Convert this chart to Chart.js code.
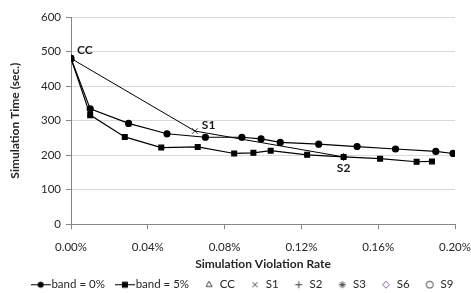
<!DOCTYPE html>
<html>
<head>
<meta charset="utf-8">
<script src="https://cdn.jsdelivr.net/npm/chart.js@4"></script>
<style>
  html, body { margin: 0; padding: 0; background: #fff; }
  #wrap { width: 471px; height: 293px; }
</style>
</head>
<body>
<div id="wrap"><canvas id="chart" width="471" height="293"></canvas></div>
<script>
// violation rate in percent, simulation time in seconds
const band0Rate = [0, 0.010, 0.030, 0.050, 0.070, 0.089, 0.099, 0.109, 0.129, 0.149, 0.169, 0.190, 0.199];
const band0Time = [480, 334, 292, 262, 252, 252, 247, 237, 232, 225, 218, 211, 205];
const band5Rate = [0, 0.010, 0.028, 0.047, 0.066, 0.085, 0.095, 0.104, 0.123, 0.142, 0.161, 0.180, 0.188];
const band5Time = [480, 316, 253, 222, 224, 205, 207, 213, 201, 195, 190, 181, 182];

const ccPoint = { x: 0, y: 480 };
const s1Point = { x: 0.0645, y: 270 };
const s2Point = { x: 0.142, y: 195 };

const xTicks = [0, 0.04, 0.08, 0.12, 0.16, 0.20];
const yTicks = [0, 100, 200, 300, 400, 500, 600];

const FONT = 'Lato';
const toPoints = (xs, ys) => xs.map((x, i) => ({ x, y: ys[i] }));

// little legend glyphs (line + marker, or marker only)
function glyph(w, draw) {
  const c = document.createElement('canvas');
  c.width = w;
  c.height = 10;
  const g = c.getContext('2d');
  draw(g);
  return c;
}
const lineCircle = glyph(20, (g) => {
  g.strokeStyle = '#000'; g.lineWidth = 1;
  g.beginPath(); g.moveTo(0, 5.5); g.lineTo(20, 5.5); g.stroke();
  g.fillStyle = '#000'; g.beginPath(); g.arc(10, 5.5, 3, 0, Math.PI * 2); g.fill();
});
const lineSquare = glyph(20, (g) => {
  g.strokeStyle = '#000'; g.lineWidth = 1;
  g.beginPath(); g.moveTo(0, 5.5); g.lineTo(20, 5.5); g.stroke();
  g.fillStyle = '#000'; g.fillRect(7, 2.5, 6, 6);
});
function marker(style, color, rot) {
  return glyph(10, (g) => {
    g.fillStyle = 'rgba(0,0,0,0)';
    g.strokeStyle = color;
    g.lineWidth = 1;
    Chart.helpers.drawPoint(g, { pointStyle: style, radius: 3.5, rotation: rot || 0, borderWidth: 1 }, 5, 5.5);
  });
}

const pointLabels = {
  id: 'pointLabels',
  afterDatasetsDraw(chart) {
    const { ctx, scales: { x, y } } = chart;
    ctx.save();
    ctx.font = `bold 12px ${FONT}`;
    ctx.fillStyle = '#1a1a1a';
    ctx.textBaseline = 'middle';
    ctx.textAlign = 'left';
    ctx.fillText('CC', x.getPixelForValue(ccPoint.x) + 6, y.getPixelForValue(ccPoint.y) - 8);
    ctx.fillText('S1', x.getPixelForValue(s1Point.x) + 7, y.getPixelForValue(s1Point.y) - 6);
    ctx.textAlign = 'center';
    ctx.fillText('S2', x.getPixelForValue(s2Point.x), y.getPixelForValue(s2Point.y) + 11);
    ctx.restore();
  },
};

const markerDs = (label, pts, style, color, rot) => ({
  label, data: pts, showLine: false, pointStyle: style, pointRotation: rot || 0,
  pointRadius: 4, pointBorderColor: color, pointBackgroundColor: 'rgba(0,0,0,0)',
  pointBorderWidth: 1, borderColor: color, legendGlyph: marker(style, color, rot),
});

const datasets = [
  {
    label: 'band = 0%', data: toPoints(band0Rate, band0Time),
    borderColor: '#000', borderWidth: 1.2, pointStyle: 'circle', pointRadius: 3,
    pointBackgroundColor: '#000', pointBorderColor: '#000', legendGlyph: lineCircle,
  },
  {
    label: 'band = 5%', data: toPoints(band5Rate, band5Time),
    borderColor: '#000', borderWidth: 1.2, pointStyle: 'rect', pointRadius: 3.4,
    pointBackgroundColor: '#000', pointBorderColor: '#000', legendGlyph: lineSquare,
  },
  {
    label: 'path', data: [ccPoint, s1Point, s2Point], borderColor: '#000',
    borderWidth: 1, pointRadius: 0, noLegend: true,
  },
  markerDs('CC', [ccPoint], 'triangle', '#404040'),
  markerDs('S1', [s1Point], 'crossRot', '#404040'),
  markerDs('S2', [s2Point], 'cross', '#404040'),
  markerDs('S3', [], 'star', '#404040'),
  markerDs('S6', [], 'rectRot', '#8064a2'),
  markerDs('S9', [], 'circle', '#404040'),
];

new Chart(document.getElementById('chart'), {
  type: 'line',
  data: { datasets },
  options: {
    responsive: false,
    animation: false,
    layout: { padding: { left: 18, right: 0, top: 17, bottom: -7 } },
    plugins: {
      tooltip: { enabled: false },
      legend: {
        position: 'bottom',
        labels: {
          usePointStyle: true,
          pointStyleWidth: 10,
          padding: 15,
          color: '#262626',
          font: { family: FONT, size: 11.5 },
          generateLabels(chart) {
            return chart.data.datasets
              .map((ds, i) => ({ ds, i }))
              .filter(({ ds }) => !ds.noLegend)
              .map(({ ds, i }) => ({
                text: ds.label, datasetIndex: i, pointStyle: ds.legendGlyph,
                fillStyle: 'transparent', strokeStyle: 'transparent', lineWidth: 0,
                fontColor: '#262626', hidden: false,
              }));
          },
        },
      },
    },
    scales: {
      x: {
        type: 'linear', min: 0, max: 0.2,
        afterBuildTicks: (s) => { s.ticks = xTicks.map((v) => ({ value: v })); },
        afterFit: (s) => { s.paddingLeft = 0; s.paddingRight = 16; },
        ticks: {
          color: '#262626', font: { family: FONT, size: 11.5 }, padding: 11,
          callback: (v) => v.toFixed(2) + '%',
        },
        grid: { drawOnChartArea: false, drawTicks: true, tickLength: 5, tickColor: '#868686' },
        border: { color: '#868686' },
        title: {
          display: true, text: 'Simulation Violation Rate', color: '#262626',
          font: { family: FONT, size: 12, weight: 'bold' }, padding: { top: -8, bottom: -8 },
        },
      },
      y: {
        min: 0, max: 600,
        afterBuildTicks: (s) => { s.ticks = yTicks.map((v) => ({ value: v })); },
        afterFit: (s) => { s.width = 53; },
        ticks: { color: '#262626', font: { family: FONT, size: 11.5 }, padding: 5 },
        grid: { color: '#d9d9d9', tickColor: '#868686', tickLength: 5 },
        border: { color: '#868686' },
        title: {
          display: true, text: 'Simulation Time (sec.)', color: '#262626',
          font: { family: FONT, size: 12, weight: 'bold' }, padding: { top: -10, bottom: 0 },
        },
      },
    },
  },
  plugins: [pointLabels],
});
</script>
</body>
</html>
